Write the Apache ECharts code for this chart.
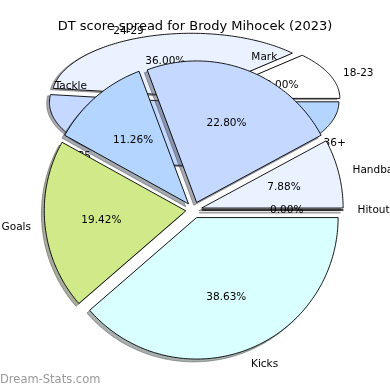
<!DOCTYPE html>
<html><head><meta charset="utf-8">
<script src="https://cdn.jsdelivr.net/npm/echarts@6/dist/echarts.min.js"></script>
<style>html,body{margin:0;padding:0;background:#fff}#c{width:390px;height:390px}</style>
</head><body><div id="c"></div>
<script>
// ---- data ----
const chartTitle = 'DT score spread for Brody Mihocek (2023)';
const ageCategories = ['18-23', '24-29', '30-35', '36+'];
const ageValues = [12, 36, 32, 20];
const statCategories = ['Kicks', 'Goals', 'Tackle', 'Mark', 'Handball', 'Hitout'];
const statValues = [38.63, 19.42, 11.26, 22.80, 7.88, 0.00];
const ageColors = ['#ffffff', '#eaf1ff', '#c5d8ff', '#b3d5ff'];
const statColors = ['#d9ffff', '#d0ea8a', '#b3d5ff', '#c5d8ff', '#eaf1ff', '#ffffff'];
const watermark = 'Dream-Stats.com';

// ---- layout ----
const FONT = '"DejaVu Sans", "Noto Sans", sans-serif';
const LABEL_SIZE = 10.5;

function hexToRgb(h) {
  const n = parseInt(h.slice(1), 16);
  return [(n >> 16) & 255, (n >> 8) & 255, n & 255];
}

function makePieSeries(cfg) {
  const total = cfg.values.reduce((a, b) => a + b, 0);
  const spans = [];
  let cur = cfg.startAngle;
  cfg.values.forEach(v => {
    const d = v / total * 360 * (cfg.counterclock ? 1 : -1);
    spans.push([cur, cur + d]);
    cur += d;
  });
  return {
    type: 'custom',
    coordinateSystem: 'none',
    z: cfg.z,
    silent: true,
    animation: false,
    data: cfg.values.map((v, i) => [v, i]),
    renderItem: function (params, api) {
      const i = params.dataIndex;
      const v = api.value(0);
      const [t1, t2] = spans[i];
      const tm = (t1 + t2) / 2 * Math.PI / 180;
      const ox = cfg.cx + cfg.explode * cfg.rx * Math.cos(tm);
      const oy = cfg.cy - cfg.explode * cfg.ry * Math.sin(tm);
      const n = Math.max(2, Math.ceil(Math.abs(t2 - t1)));
      const pts = [[ox, oy]];
      for (let k = 0; k <= n; k++) {
        const t = (t1 + (t2 - t1) * k / n) * Math.PI / 180;
        pts.push([ox + cfg.rx * Math.cos(t), oy - cfg.ry * Math.sin(t)]);
      }
      const sdx = -0.02 * cfg.rx, sdy = 0.02 * cfg.ry;
      const spts = pts.map(p => [p[0] + sdx, p[1] + sdy]);
      const rgb = hexToRgb(cfg.colors[i]);
      const sc = 'rgba(' + rgb.map(c => Math.round(c * 0.3)).join(',') + ',0.45)';
      const lx = ox + 1.1 * cfg.rx * Math.cos(tm);
      const ly = oy - 1.1 * cfg.ry * Math.sin(tm) + 0.5;
      const align = Math.cos(tm) > 1e-9 ? 'left' : 'right';
      const px = ox + 0.6 * cfg.rx * Math.cos(tm);
      const py = oy - 0.6 * cfg.ry * Math.sin(tm) + 0.5;
      const pct = (v / total * 100).toFixed(2) + '%';
      const font = LABEL_SIZE + 'px ' + FONT;
      return {
        type: 'group',
        children: [
          { type: 'polygon', z2: 0, shape: { points: spts },
            style: { fill: sc, stroke: sc, lineWidth: 1 } },
          { type: 'polygon', z2: 1, shape: { points: pts },
            style: { fill: cfg.colors[i], stroke: '#000', lineWidth: 0.9 } },
          { type: 'text', z2: 2, x: lx, y: ly,
            style: { text: cfg.labels[i], fill: '#000', font: font,
                     align: align, textAlign: align, verticalAlign: 'middle', textVerticalAlign: 'middle' } },
          { type: 'text', z2: 2, x: px, y: py,
            style: { text: pct, fill: '#000', font: font,
                     align: 'center', textAlign: 'center', verticalAlign: 'middle', textVerticalAlign: 'middle' } }
        ]
      };
    }
  };
}

const chart = echarts.init(document.getElementById('c'), null, { renderer: 'canvas' });
chart.setOption({
  backgroundColor: '#ffffff',
  animation: false,
  title: {
    text: chartTitle, left: 'center', top: 20, padding: 0,
    textStyle: { fontFamily: FONT, fontSize: 13, fontWeight: 'normal', color: '#000' }
  },
  graphic: [{
    type: 'text', left: 0, top: 374, z: 10,
    style: { text: watermark, fill: '#9a9a9a', font: '11.5px ' + FONT }
  }],
  series: [
    makePieSeries({ values: ageValues, labels: ageCategories, colors: ageColors,
      cx: 193.5, cy: 99.7, rx: 139, ry: 63, explode: 0.057, counterclock: true, startAngle: 0, z: 2 }),
    makePieSeries({ values: statValues, labels: statCategories, colors: statColors,
      cx: 193.8, cy: 210, rx: 141.5, ry: 141.5, explode: 0.057, counterclock: false, startAngle: 0, z: 3 })
  ]
});
</script></body></html>
